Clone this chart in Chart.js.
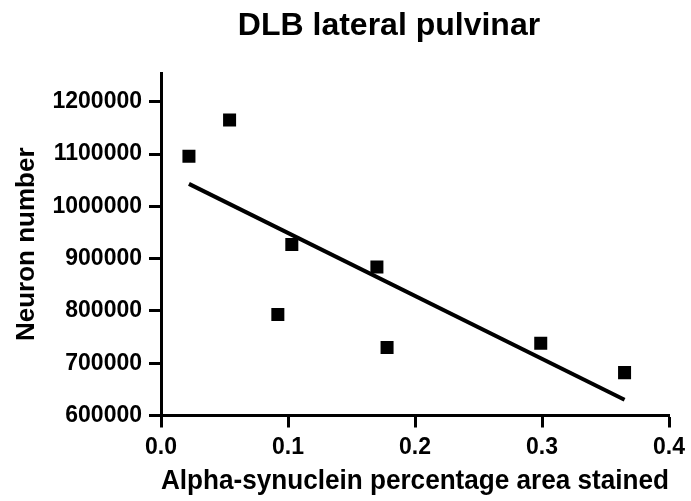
<!DOCTYPE html>
<html>
<head>
<meta charset="utf-8">
<title>DLB lateral pulvinar</title>
<script src="https://cdn.jsdelivr.net/npm/chart.js@4"></script>
<style>
  html, body { margin: 0; padding: 0; background: #fff; }
  #wrap { width: 691px; height: 501px; }
</style>
</head>
<body>
<div id="wrap"><canvas id="c" width="691" height="501"></canvas></div>
<script>
// Alpha-synuclein load vs. neuron count, lateral pulvinar (DLB cases)
const alphaSyn = [0.022, 0.054, 0.092, 0.103, 0.170, 0.178, 0.299, 0.365];
const neurons  = [1096000, 1165000, 793000, 927000, 884000, 730000, 738000, 682000];

// Linear regression line end points
const fitX = [0.022, 0.365];
const fitY = [1043000, 630000];

// Axis ticks
const xTicks = [0, 0.1, 0.2, 0.3, 0.4];
const xTickLabels = ['0.0', '0.1', '0.2', '0.3', '0.4'];
const yTicks = [600000, 700000, 800000, 900000, 1000000, 1100000, 1200000];
const yTickLabels = ['600000', '700000', '800000', '900000', '1000000', '1100000', '1200000'];

const titleText = 'DLB lateral pulvinar';
const xTitle = 'Alpha-synuclein percentage area stained';
const yTitle = 'Neuron number';

const FONT = '"Liberation Sans", Arial, Helvetica, sans-serif';
Chart.defaults.font.family = FONT;
Chart.defaults.font.weight = 'bold';
Chart.defaults.color = '#000';

// Title drawn over the plot, offset toward the left like the original layout
const titlePlugin = {
  id: 'plotTitle',
  afterDraw(chart) {
    const ctx = chart.ctx;
    ctx.save();
    ctx.font = 'bold 32px ' + FONT;
    ctx.fillStyle = '#000';
    ctx.textAlign = 'center';
    ctx.textBaseline = 'alphabetic';
    ctx.fillText(titleText, 389, 35);
    ctx.restore();
  }
};

const axisCommon = {
  grid: {
    display: true,
    drawOnChartArea: false,
    drawTicks: true,
    tickLength: 12,
    tickWidth: 3,
    tickColor: '#000'
  },
  border: { display: true, color: '#000', width: 3 }
};

new Chart(document.getElementById('c'), {
  data: {
    datasets: [
      {
        type: 'scatter',
        data: alphaSyn.map((x, i) => ({ x, y: neurons[i] })),
        pointStyle: 'rect',
        pointRadius: 9.2,
        pointHoverRadius: 9.2,
        backgroundColor: '#000',
        borderWidth: 0
      },
      {
        type: 'line',
        data: fitX.map((x, i) => ({ x, y: fitY[i] })),
        borderColor: '#000',
        borderWidth: 4,
        pointRadius: 0,
        fill: false
      }
    ]
  },
  options: {
    responsive: false,
    animation: false,
    events: [],
    layout: { padding: { left: 0, right: 18.7, top: 73, bottom: 0 } },
    plugins: {
      legend: { display: false },
      title: { display: false },
      tooltip: { enabled: false }
    },
    scales: {
      x: {
        type: 'linear',
        position: 'bottom',
        min: 0,
        max: 0.4,
        ...axisCommon,
        afterBuildTicks(scale) { scale.ticks = xTicks.map(v => ({ value: v })); },
        afterFit(scale) { scale.height = 85.5; },
        ticks: {
          font: { size: 23, weight: 'bold' },
          color: '#000',
          padding: 6,
          maxRotation: 0,
          callback: (v, i) => xTickLabels[i]
        },
        title: {
          display: true,
          text: xTitle,
          font: { size: 27, weight: 'bold' },
          color: '#000',
          padding: { top: 0, bottom: 3 }
        }
      },
      y: {
        type: 'linear',
        position: 'left',
        min: 600000,
        max: 1255000,
        ...axisCommon,
        afterBuildTicks(scale) { scale.ticks = yTicks.map(v => ({ value: v })); },
        afterFit(scale) { scale.width = 161; },
        ticks: {
          font: { size: 23, weight: 'bold' },
          color: '#000',
          padding: 7,
          callback: (v, i) => yTickLabels[i]
        },
        title: {
          display: true,
          text: yTitle,
          font: { size: 26, weight: 'bold' },
          color: '#000',
          padding: { top: 11, bottom: 0 }
        }
      }
    }
  },
  plugins: [titlePlugin]
});
</script>
</body>
</html>
